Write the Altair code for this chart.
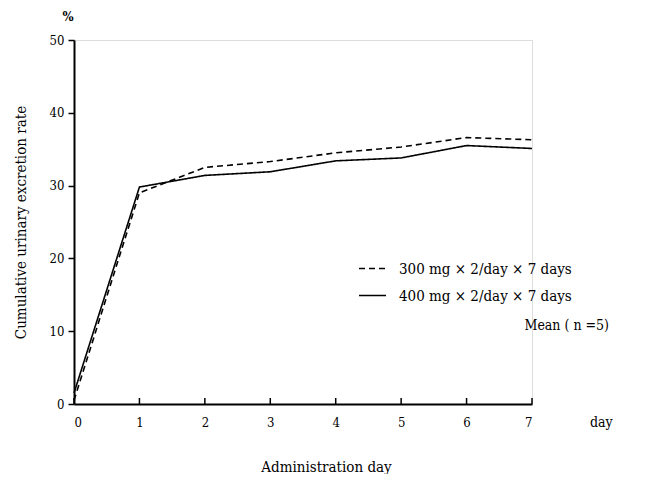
import altair as alt
import pandas as pd

days = [0, 1, 2, 3, 4, 5, 6, 7]
dose300 = [0.5, 29.0, 32.5, 33.3, 34.5, 35.3, 36.6, 36.3]
dose400 = [1.5, 29.8, 31.4, 31.9, 33.4, 33.8, 35.5, 35.1]
series = ["300 mg × 2/day × 7 days", "400 mg × 2/day × 7 days"]
x_ticks = [0, 1, 2, 3, 4, 5, 6, 7]
y_ticks = [0, 10, 20, 30, 40, 50]

rows = []
for d, a, b in zip(days, dose300, dose400):
    rows.append({"day": d, "value": a, "series": series[0]})
    rows.append({"day": d, "value": b, "series": series[1]})
df = pd.DataFrame(rows)

FONT = "DejaVu Serif Condensed"

xscale = alt.Scale(domain=[0, 7], nice=False, zero=False)
yscale = alt.Scale(domain=[0, 50], nice=False)

lines = alt.Chart(df).mark_line(color="black", strokeWidth=1.6).encode(
    x=alt.X("day:Q", scale=xscale,
            axis=alt.Axis(values=x_ticks, format="d", title="Administration day",
                          ticks=False, labelPadding=12, titlePadding=30, titleX=252,
                          labelFontSize=13, titleFontSize=15, titleFontWeight="normal",
                          domainWidth=2, domainColor="black", grid=False,
                          labelColor="black", titleColor="black", labelFont=FONT, titleFont=FONT)),
    y=alt.Y("value:Q", scale=yscale,
            axis=alt.Axis(values=y_ticks, title="Cumulative urinary excretion rate",
                          tickSize=6, tickWidth=1.5, tickColor="black", labelPadding=4,
                          titlePadding=21, labelFontSize=13, titleFontSize=15,
                          titleFontWeight="normal", domainWidth=2, domainColor="black",
                          grid=False, labelColor="black", titleColor="black",
                          labelFont=FONT, titleFont=FONT)),
    strokeDash=alt.StrokeDash("series:N",
        scale=alt.Scale(domain=series, range=[[6, 4], [1, 0]]),
        legend=alt.Legend(title=None, orient="none", legendX=284, legendY=214,
                          symbolType="stroke", symbolSize=729, symbolStrokeWidth=1.6,
                          symbolStrokeColor="black", labelFontSize=15, labelFont=FONT,
                          labelColor="black", rowPadding=4, symbolOffset=0,
                          labelOffset=12, labelLimit=400)),
)

tick_df = pd.DataFrame({"day": x_ticks})
xticks = alt.Chart(tick_df).mark_rule(color="black", strokeWidth=1.5).encode(
    x=alt.X("day:Q", scale=xscale),
    y=alt.value(364),
    y2=alt.value(358),
)

pct = alt.Chart(pd.DataFrame({"t": ["%"]})).mark_text(
    font=FONT, fontSize=13, fontWeight="bold", color="black",
    align="center", baseline="middle").encode(
    x=alt.value(-6), y=alt.value(-23), text="t:N")
dayl = alt.Chart(pd.DataFrame({"t": ["day"]})).mark_text(
    font=FONT, fontSize=14, color="black", align="left", baseline="middle").encode(
    x=alt.value(516), y=alt.value(383), text="t:N")
mean = alt.Chart(pd.DataFrame({"t": ["Mean ( n =5)"]})).mark_text(
    font=FONT, fontSize=14, color="black", align="right", baseline="middle").encode(
    x=alt.value(535), y=alt.value(286), text="t:N")

chart = alt.layer(lines, xticks, pct, dayl, mean).properties(
    width=458, height=364,
    padding={"left": 66, "top": 32, "right": 110, "bottom": 70},
    autosize=alt.AutoSizeParams(type="none"),
).configure_view(stroke=None).configure(background="white")

chart.save("out.html", embed_options={"renderer": "svg", "actions": False})
